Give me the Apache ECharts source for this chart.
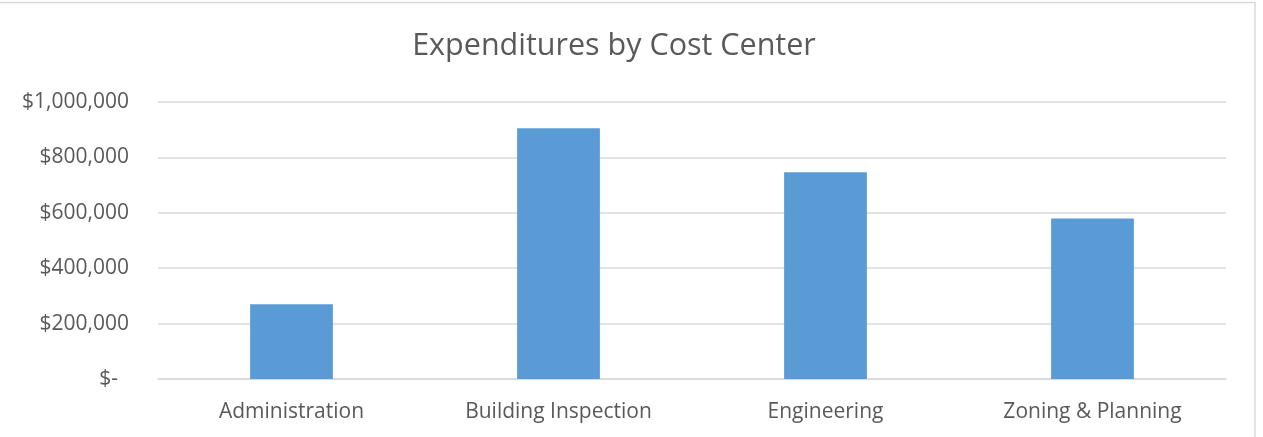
<!DOCTYPE html>
<html>
<head>
<meta charset="utf-8">
<script src="https://cdn.jsdelivr.net/npm/echarts@6/dist/echarts.min.js"></script>
<style>
  html, body { margin: 0; padding: 0; background: #fff; }
  #chart { width: 1263px; height: 437px; }
</style>
</head>
<body>
<div id="chart"></div>
<script>
// cost centers and their spending
const categories = ['Administration', 'Building Inspection', 'Engineering', 'Zoning & Planning'];
const expenditures = [270000, 905000, 746000, 579000];

const chart = echarts.init(document.getElementById('chart'));

const option = {
  animation: false,
  textStyle: { fontFamily: 'Open Sans' },
  title: {
    text: 'Expenditures by Cost Center',
    left: 609,
    top: 26,
    textAlign: 'center',
    textStyle: { fontSize: 30.5, fontWeight: 'normal', color: '#595959', fontFamily: 'Open Sans' }
  },
  // thin chart border, as in the spreadsheet picture
  graphic: [{
    type: 'rect',
    shape: { x: -5, y: 2.5, width: 1260, height: 450 },
    style: { fill: 'none', stroke: '#d9d9d9', lineWidth: 1.5 },
    silent: true
  }],
  grid: {
    left: 158,
    right: 37,
    top: 102,
    bottom: 58
  },
  xAxis: {
    type: 'category',
    data: categories,
    axisLine: { show: true, lineStyle: { color: '#d9d9d9', width: 1.5 } },
    axisTick: { show: false },
    axisLabel: { color: '#595959', fontSize: 21, margin: 23 }
  },
  yAxis: {
    type: 'value',
    min: 0,
    max: 1000000,
    interval: 200000,
    axisLine: { show: false },
    axisTick: { show: false },
    splitLine: { lineStyle: { color: '#d9d9d9', width: 1.5 } },
    axisLabel: {
      color: '#595959',
      fontSize: 21,
      margin: 29,
      formatter: function (v) {
        if (v === 0) return '$-  ';
        return '$' + v.toLocaleString('en-US');
      }
    }
  },
  series: [{
    type: 'bar',
    data: expenditures,
    barWidth: '31%',
    itemStyle: { color: '#5b9bd5' }
  }]
};

chart.setOption(option);
</script>
</body>
</html>
